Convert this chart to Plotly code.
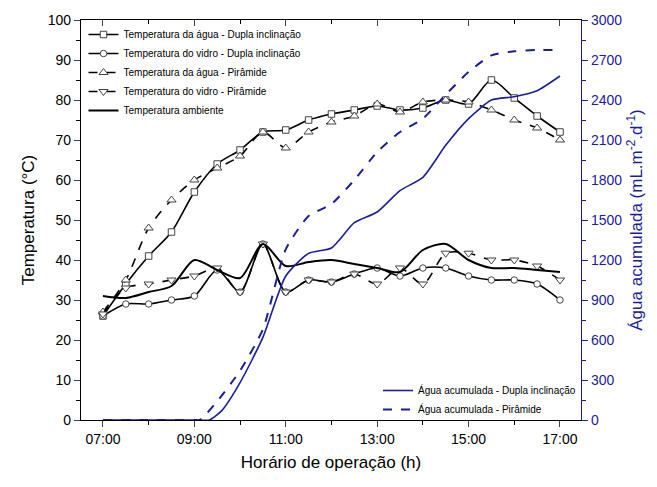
import plotly.graph_objects as go

# ---------------- data ----------------
hours = [7.0, 7.5, 8.0, 8.5, 9.0, 9.5, 10.0, 10.5, 11.0, 11.5, 12.0,
         12.5, 13.0, 13.5, 14.0, 14.5, 15.0, 15.5, 16.0, 16.5, 17.0]

agua_dupla = [26, 34, 41, 47, 57, 64, 67.5, 72, 72.5, 75, 76.5,
              77.5, 78.5, 77.5, 78, 80, 79, 85, 80.5, 76, 72]
vidro_dupla = [26, 29, 29, 30, 31, 37.5, 32, 44, 32, 35, 34.5,
               36.5, 38, 36, 38, 38, 36, 35, 35, 34, 30]
agua_piramide = [27, 35, 48, 55, 60, 63, 66, 72, 68, 72, 74.5,
                 76, 79, 77, 79.5, 80, 79.5, 77.5, 75, 73, 70]
vidro_piramide = [26.5, 33, 34, 35, 36, 38, 32, 44, 32, 35, 34.5,
                  36.5, 34, 38, 34, 41.7, 41.7, 40, 40, 38.5, 35]
ambiente = [31, 30.5, 32, 33.5, 40, 37.5, 35.5, 44, 38.5, 39.5, 40,
            39, 38, 37, 42.5, 44, 40, 38, 38, 37.5, 37]

hours_dupla_acc = [7.0, 8.0, 9.0, 9.33, 9.6, 10.0, 10.5, 11.0, 11.5, 12.0, 12.5,
                   13.0, 13.5, 14.0, 14.5, 15.0, 15.5, 16.0, 16.5, 17.0]
acc_dupla = [0, 0, 0, 0, 70, 280, 620, 1080, 1250, 1290, 1480,
             1560, 1720, 1820, 2060, 2260, 2400, 2425, 2470, 2580]

hours_pir_acc = [7.0, 8.0, 9.0, 9.12, 9.5, 10.0, 10.5, 11.0, 11.5, 12.0, 12.5,
                 13.0, 13.5, 14.0, 14.5, 15.0, 15.5, 16.0, 16.5, 17.0]
acc_piramide = [0, 0, 0, 0, 140, 370, 680, 1280, 1530, 1620, 1800,
                2010, 2160, 2260, 2440, 2610, 2735, 2765, 2775, 2775]

x_tickvals = [7, 9, 11, 13, 15, 17]
x_ticktext = ["07:00", "09:00", "11:00", "13:00", "15:00", "17:00"]
y_left_ticks = [0, 10, 20, 30, 40, 50, 60, 70, 80, 90, 100]
y_right_ticks = [0, 300, 600, 900, 1200, 1500, 1800, 2100, 2400, 2700, 3000]

BLUE = "#1d1d9b"
FONT = "Arial, Liberation Sans, sans-serif"

fig = go.Figure()

def temp_trace(y, name, symbol, dash, msize=7, markers=True, width=1.6):
    return go.Scatter(
        x=hours, y=y, name=name,
        mode="lines+markers" if markers else "lines",
        line=dict(color="black", width=width, dash=dash, shape="spline", smoothing=0.8),
        marker=dict(symbol=symbol, size=msize, color="white",
                    line=dict(color="#444444", width=1)),
        legend="legend",
    )

fig.add_trace(temp_trace(agua_dupla, "Temperatura da água - Dupla inclinação", "square", "solid", msize=6.5))
fig.add_trace(temp_trace(vidro_dupla, "Temperatura do vidro - Dupla inclinação", "circle", "solid", msize=6.5))
fig.add_trace(temp_trace(agua_piramide, "Temperatura da água - Pirâmide", "triangle-up", "dash", msize=8))
fig.add_trace(temp_trace(vidro_piramide, "Temperatura do vidro - Pirâmide", "triangle-down", "dash", msize=8))
fig.add_trace(temp_trace(ambiente, "Temperatura ambiente", None, "solid", markers=False, width=2))

fig.add_trace(go.Scatter(
    x=hours_dupla_acc, y=acc_dupla, name="Água acumulada - Dupla inclinação",
    mode="lines", line=dict(color=BLUE, width=1.6, shape="spline", smoothing=0.6),
    yaxis="y2", legend="legend2"))
fig.add_trace(go.Scatter(
    x=hours_pir_acc, y=acc_piramide, name="Água acumulada - Pirâmide",
    mode="lines", line=dict(color=BLUE, width=2, dash="dash", shape="spline", smoothing=0.6),
    yaxis="y2", legend="legend2"))

# invisible helper trace to draw top axis
fig.add_trace(go.Scatter(x=[hours[0]], y=[0], xaxis="x2", mode="markers",
                         marker=dict(opacity=0), showlegend=False, hoverinfo="skip"))

xr = [6.52, 17.46]
fig.update_layout(
    width=657, height=487,
    margin=dict(l=81, r=76, t=17, b=67),
    paper_bgcolor="white", plot_bgcolor="white",
    font=dict(family=FONT, color="black"),
    xaxis=dict(range=xr, tickvals=x_tickvals, ticktext=x_ticktext,
               ticks="outside", ticklen=6, tickwidth=1.2, showline=True,
               linecolor="black", linewidth=1.2, showgrid=False, zeroline=False,
               tickfont=dict(size=14),
               minor=dict(dtick=1, tick0=7, ticks="outside", ticklen=4, tickcolor="black"),
               title=dict(text="Horário de operação (h)", font=dict(size=17), standoff=10)),
    xaxis2=dict(range=xr, overlaying="x", side="top", tickvals=x_tickvals,
                showticklabels=False, ticks="inside", ticklen=6, tickwidth=1.2,
                showline=True, linecolor="black", linewidth=1.2, showgrid=False,
                zeroline=False,
                minor=dict(dtick=1, tick0=7, ticks="inside", ticklen=4, tickcolor="black")),
    yaxis=dict(range=[0, 100], tickvals=y_left_ticks, ticks="outside", ticklen=6,
               tickwidth=1.2, showline=True, linecolor="black", linewidth=1.2,
               showgrid=False, zeroline=False, tickfont=dict(size=14),
               minor=dict(dtick=5, ticks="outside", ticklen=4, tickcolor="black"),
               title=dict(text="Temperatura (°C)", font=dict(size=17), standoff=8)),
    yaxis2=dict(range=[0, 3000], tickvals=y_right_ticks, overlaying="y", side="right",
                ticks="outside", ticklen=6, tickwidth=1.2, tickcolor=BLUE,
                showline=True, linecolor=BLUE, linewidth=1.2, showgrid=False,
                zeroline=False, tickfont=dict(size=14, color=BLUE),
                minor=dict(dtick=150, ticks="outside", ticklen=4, tickcolor=BLUE),
                title=dict(text="Água acumulada (mL.m<sup>-2</sup>.d<sup>-1</sup>)",
                           font=dict(size=17, color=BLUE), standoff=8)),
    legend=dict(x=0.005, y=1.0, xanchor="left", yanchor="top",
                font=dict(size=10), bgcolor="rgba(0,0,0,0)", tracegroupgap=0,
                itemwidth=30),
    legend2=dict(x=1.0, y=-0.01, xanchor="right", yanchor="bottom",
                 font=dict(size=10), bgcolor="rgba(0,0,0,0)", itemwidth=30),
    showlegend=True,
)

fig.write_html("out.html")
